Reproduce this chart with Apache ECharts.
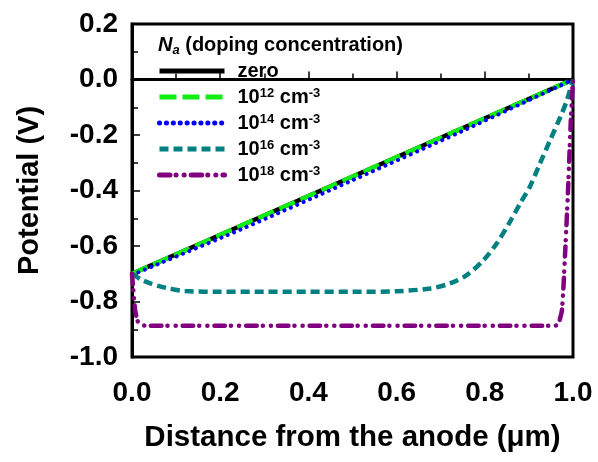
<!DOCTYPE html>
<html>
<head>
<meta charset="utf-8">
<script src="https://cdn.jsdelivr.net/npm/echarts@6/dist/echarts.min.js"></script>
<style>
  html, body { margin: 0; padding: 0; background: #fff; }
  #chart { width: 598px; height: 462px; }
</style>
</head>
<body>
<div id="chart"></div>
<script>
// values
var xLinear = [0, 1];
var yZero = [-0.700, 0.000];
var y1e12 = [-0.700, 0.000];

var x1e14 = [0, 0.25, 0.5, 0.75, 1];
var y1e14 = [-0.704, -0.538, -0.363, -0.185, 0.000];

var x1e16 = [0, 0.02, 0.04, 0.08, 0.12, 0.2, 0.3, 0.4, 0.5, 0.6, 0.676, 0.721, 0.759, 0.797, 0.827, 0.857, 0.880, 0.902, 0.925, 0.948, 0.971, 0.986, 1.0];
var y1e16 = [-0.700, -0.720, -0.734, -0.752, -0.762, -0.765, -0.765, -0.765, -0.765, -0.763, -0.753, -0.735, -0.705, -0.651, -0.591, -0.513, -0.447, -0.387, -0.303, -0.219, -0.136, -0.076, 0.000];

var x1e18 = [0, 0.003, 0.007, 0.012, 0.018, 0.03, 0.5, 0.96, 0.967, 0.975, 0.982, 0.989, 0.995, 1.0];
var y1e18 = [-0.700, -0.760, -0.830, -0.868, -0.884, -0.887, -0.887, -0.887, -0.880, -0.830, -0.630, -0.390, -0.150, 0.000];

var xTicks = [0.0, 0.2, 0.4, 0.6, 0.8, 1.0];
var yTicks = [-1.0, -0.8, -0.6, -0.4, -0.2, 0.0, 0.2];

var names = ['zero', '1e12', '1e14', '1e16', '1e18'];
var legendText = {
  'zero': 'zero',
  '1e12': '10{sup|12} cm{sup|-3}',
  '1e14': '10{sup|14} cm{sup|-3}',
  '1e16': '10{sup|16} cm{sup|-3}',
  '1e18': '10{sup|18} cm{sup|-3}'
};

function pairs(xs, ys) {
  return xs.map(function (x, i) { return [x, ys[i]]; });
}

var font = 'Liberation Sans, Arial, sans-serif';
var chart = echarts.init(document.getElementById('chart'));

chart.setOption({
  animation: false,
  title: {
    text: '{n|N}{s|a} (doping concentration)',
    left: 153,
    top: 28,
    textStyle: {
      fontFamily: font,
      fontWeight: 'bold',
      fontSize: 20,
      color: '#000',
      rich: {
        n: { fontFamily: font, fontWeight: 'bold', fontStyle: 'italic', fontSize: 20, color: '#000', lineHeight: 24 },
        s: { fontFamily: font, fontWeight: 'bold', fontStyle: 'italic', fontSize: 13, color: '#000', verticalAlign: 'bottom', lineHeight: 14 }
      }
    }
  },
  legend: {
    orient: 'vertical',
    left: 152,
    top: 56,
    itemWidth: 65,
    itemHeight: 14,
    itemGap: 6,
    data: names,
    itemStyle: { opacity: 0 },
    lineStyle: { width: 5 },
    formatter: function (name) { return legendText[name]; },
    textStyle: {
      fontFamily: font,
      fontWeight: 'bold',
      fontSize: 20,
      lineHeight: 20,
      color: '#000',
      padding: [0, 0, 0, 8],
      rich: {
        sup: { fontFamily: font, fontWeight: 'bold', fontSize: 13, color: '#000', verticalAlign: 'top', lineHeight: 10 }
      }
    }
  },
  grid: {
    left: 132,
    right: 25,
    top: 24,
    bottom: 105,
    show: true,
    borderColor: '#000',
    borderWidth: 3
  },
  xAxis: {
    type: 'value',
    min: 0,
    max: 1,
    interval: 0.2,
    name: 'Distance from the anode (\u03bcm)',
    nameLocation: 'middle',
    nameGap: 66,
    nameMoveOverlap: false,
    nameTextStyle: { fontFamily: font, fontWeight: 'bold', fontSize: 29.5, color: '#000' },
    axisLine: { lineStyle: { color: '#000', width: 3 } },
    axisTick: { inside: true, length: 8, lineStyle: { color: '#000', width: 1.5 } },
    minorTick: { show: true, splitNumber: 2, length: 6, lineStyle: { color: '#000', width: 1.5 } },
    splitLine: { show: false },
    axisLabel: {
      margin: 22,
      fontFamily: font, fontWeight: 'bold', fontSize: 28, color: '#000',
      formatter: function (v) { return xTicks.indexOf(+v.toFixed(1)) >= 0 ? v.toFixed(1) : ''; }
    }
  },
  yAxis: {
    type: 'value',
    min: -1.0,
    max: 0.2,
    interval: 0.2,
    name: 'Potential (V)',
    nameLocation: 'middle',
    nameGap: 88,
    nameTextStyle: { fontFamily: font, fontWeight: 'bold', fontSize: 29, color: '#000' },
    axisLine: { show: true, lineStyle: { color: '#000', width: 3 } },
    axisTick: { inside: true, length: 8, lineStyle: { color: '#000', width: 1.5 } },
    minorTick: { show: true, splitNumber: 2, length: 6, lineStyle: { color: '#000', width: 1.5 } },
    splitLine: { show: false },
    axisLabel: {
      margin: 14,
      fontFamily: font, fontWeight: 'bold', fontSize: 28, color: '#000',
      formatter: function (v) {
        var s = v.toFixed(1);
        if (s === '-0.0') s = '0.0';
        return yTicks.indexOf(+s) >= 0 ? s : '';
      }
    }
  },
  series: [
    {
      name: 'zero', type: 'line', symbol: 'none', z: 2,
      data: pairs(xLinear, yZero),
      lineStyle: { color: '#000', width: 4.5 }
    },
    {
      name: '1e12', type: 'line', symbol: 'none', z: 3,
      data: pairs(xLinear, y1e12),
      lineStyle: { color: '#11ee11', width: 4.5, type: [17, 6] }
    },
    {
      name: '1e14', type: 'line', symbol: 'none', z: 4,
      data: pairs(x1e14, y1e14), smooth: 0.3,
      lineStyle: { color: '#0000ff', width: 4, type: [0.1, 6.8], cap: 'round' }
    },
    {
      name: '1e16', type: 'line', symbol: 'none', z: 5,
      data: pairs(x1e16, y1e16), smooth: 0.3,
      lineStyle: { color: '#008080', width: 4.5, type: [9, 5] }
    },
    {
      name: '1e18', type: 'line', symbol: 'none', z: 6,
      data: pairs(x1e18, y1e18), smooth: 0.2,
      lineStyle: { color: '#800080', width: 4.5, type: [10.5, 6, 0.1, 8, 0.1, 7], cap: 'round' }
    }
  ]
});
</script>
</body>
</html>
